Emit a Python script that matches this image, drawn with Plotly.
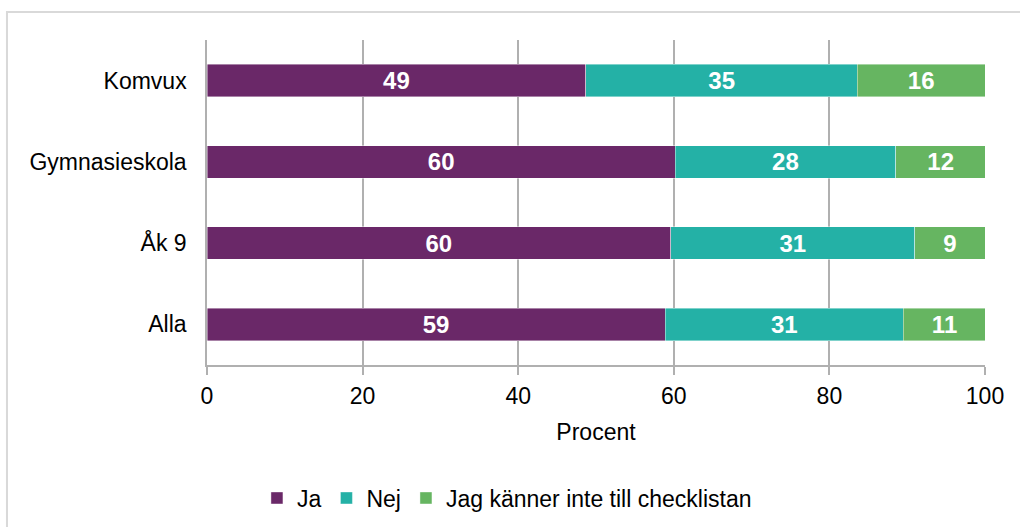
import plotly.graph_objects as go

categories = ["Alla", "Åk 9", "Gymnasieskola", "Komvux"]
ja = [58.9, 59.6, 60.2, 48.7]
nej = [30.6, 31.4, 28.3, 34.9]
vet_ej = [10.6, 9.0, 11.6, 16.4]
series_names = ["Ja", "Nej", "Jag känner inte till checklistan"]
colors = ["#6A2868", "#24B1A6", "#66B561"]
x_ticks = [0, 20, 40, 60, 80, 100]

FONT = "Liberation Sans, Arial, sans-serif"
fig = go.Figure()
for name, vals, col in zip(series_names, [ja, nej, vet_ej], colors):
    fig.add_trace(go.Bar(
        y=categories, x=vals, name=name, orientation="h",
        marker=dict(color=col, line=dict(color="rgba(255,255,255,0.6)", width=0.7)),
        texttemplate="%{x:.0f}", textposition="inside", insidetextanchor="middle",
        textangle=0, constraintext="none",
        insidetextfont=dict(family=FONT, size=24, color="white", weight="bold"),
        hoverinfo="x+y+name",
    ))

fig.update_layout(
    barmode="stack",
    bargap=0.6,
    width=1020, height=527,
    margin=dict(l=207, r=35, t=40, b=162),
    paper_bgcolor="white", plot_bgcolor="white",
    font=dict(family=FONT, size=23, color="black"),
    xaxis=dict(
        range=[0, 100], tickvals=x_ticks, ticktext=[str(v) for v in x_ticks],
        showgrid=True, gridcolor="#b0b0b0", gridwidth=1.5,
        showline=True, linecolor="#b0b0b0", linewidth=1.5,
        ticks="outside", ticklen=8, tickcolor="#b0b0b0", tickwidth=1.5,
        tickfont=dict(size=23), zeroline=False, ticklabelstandoff=2,
        title=dict(text="Procent", font=dict(size=23), standoff=16),
    ),
    yaxis=dict(
        showline=True, linecolor="#b0b0b0", linewidth=1.5,
        ticks="", tickfont=dict(size=23), ticklabelstandoff=14,
        showgrid=False,
    ),
    legend=dict(
        orientation="h", xref="container", x=0.497, xanchor="center",
        yref="container", y=0.055, yanchor="middle",
        font=dict(size=23), traceorder="normal", itemwidth=30,
    ),
    shapes=[dict(
        type="rect", xref="paper", yref="paper",
        x0=-0.2571, x1=1.1, y0=-1.0, y1=1.086,
        line=dict(color="#d9d9d9", width=2), fillcolor="rgba(0,0,0,0)", layer="below",
    )],
)

fig.write_html("out.html", config={"displayModeBar": False},
               post_script="document.body.style.margin='0';")
